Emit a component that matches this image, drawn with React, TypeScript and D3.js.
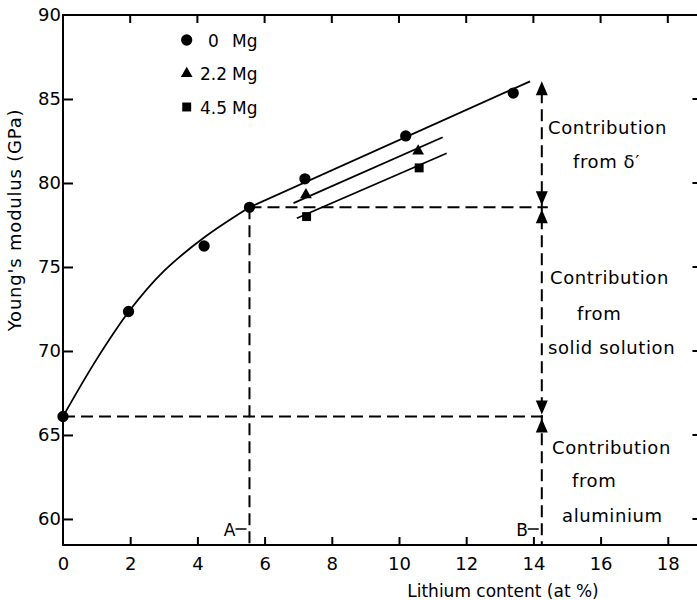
import React, { useEffect, useRef } from 'react';
import * as d3 from 'd3';

// 0 Mg series (circles)
const liMg0 = [0, 1.95, 4.2, 5.55, 7.2, 10.2, 13.4];
const eMg0 = [66.1, 72.35, 76.25, 78.55, 80.25, 82.8, 85.35];
// 2.2 Mg series (triangles)
const liMg22 = [7.23, 10.57];
const eMg22 = [79.3, 81.9];
// 4.5 Mg series (squares)
const liMg45 = [7.25, 10.6];
const eMg45 = [78.0, 80.9];

// fitted curve for the solid-solution region, then straight fits
const curveLi = [0, 1, 2, 3, 4.2, 5.55];
const curveE = [66.1, 69.5, 72.45, 74.75, 76.75, 78.55];
const fitMg0Li = [5.55, 13.9];
const fitMg0E = [78.55, 86.05];
const fitMg22Li = [6.86, 11.3];
const fitMg22E = [78.8, 82.72];
const fitMg45Li = [6.96, 11.42];
const fitMg45E = [77.9, 81.77];

const xTicks = [0, 2, 4, 6, 8, 10, 12, 14, 16, 18];
const yTicks = [60, 65, 70, 75, 80, 85, 90];
const legendNumbers = ['0', '2.2', '4.5'];

// construction lines
const liA = 5.55;
const liB = 14.25;
const eAlu = 66.1;
const eSolid = 78.55;
const eTop = 86.05;

const FONT = '"DejaVu Sans", sans-serif';

export default function App() {
  const ref = useRef<SVGSVGElement | null>(null);

  useEffect(() => {
    const svg = d3.select(ref.current);
    svg.selectAll('*').remove();

    const left = 63, top = 15, bottom = 545;
    const x = d3.scaleLinear().domain([0, 19]).range([left, left + 19 * 33.6]);
    const y = d3.scaleLinear().domain([58.45, 90]).range([bottom, top]);

    // frame
    svg.append('rect')
      .attr('x', x(0)).attr('y', y(90))
      .attr('width', x(19) - x(0)).attr('height', y(58.45) - y(90))
      .attr('fill', 'none').attr('stroke', '#000').attr('stroke-width', 2);

    // left axis with inward ticks
    const gy = svg.append('g').attr('transform', `translate(${x(0)},0)`)
      .call(d3.axisLeft(y).tickValues(yTicks).tickSize(-10).tickSizeOuter(0).tickPadding(2).tickFormat(d3.format('d')));
    gy.select('.domain').remove();
    gy.selectAll('line').attr('stroke-width', 2);
    gy.selectAll('text').attr('font-family', FONT).attr('font-size', 18).attr('fill', '#000');
    gy.selectAll('.tick').filter((d: any) => d === 90).select('line').remove();

    // right axis ticks
    svg.append('g').selectAll('line').data(yTicks.filter(d => d < 90)).enter().append('line')
      .attr('x1', x(19)).attr('x2', x(19) - 9)
      .attr('y1', d => y(d)).attr('y2', d => y(d))
      .attr('stroke', '#000').attr('stroke-width', 2);

    // bottom axis
    const gx = svg.append('g').attr('transform', `translate(0,${y(58.45)})`)
      .call(d3.axisBottom(x).tickValues(xTicks).tickSize(-8).tickSizeOuter(0).tickPadding(12).tickFormat(d3.format('d')));
    gx.select('.domain').remove();
    gx.selectAll('line').attr('stroke-width', 2);
    gx.selectAll('.tick').filter((d: any) => d === 0).select('line').remove();
    gx.selectAll('text').attr('font-family', FONT).attr('font-size', 18).attr('fill', '#000');

    // top ticks
    svg.append('g').selectAll('line').data(xTicks.filter(d => d > 0)).enter().append('line')
      .attr('x1', d => x(d)).attr('x2', d => x(d))
      .attr('y1', y(90)).attr('y2', y(90) + 8)
      .attr('stroke', '#000').attr('stroke-width', 2);

    // axis titles
    svg.append('text')
      .attr('transform', `translate(21,${220}) rotate(-90)`)
      .attr('text-anchor', 'middle')
      .attr('font-family', FONT).attr('font-size', 18).attr('letter-spacing', 0.8)
      .text("Young's modulus (GPa)");
    svg.append('text')
      .attr('x', 503).attr('y', 597)
      .attr('text-anchor', 'middle')
      .attr('font-family', FONT).attr('font-size', 17)
      .text('Lithium content (at %)');

    // dashed construction lines
    const dash = '12,6';
    const dashed = (x1: number, y1: number, x2: number, y2: number) =>
      svg.append('line')
        .attr('x1', x1).attr('y1', y1).attr('x2', x2).attr('y2', y2)
        .attr('stroke', '#000').attr('stroke-width', 2).attr('stroke-dasharray', dash);
    dashed(x(liA), y(eSolid), x(liB) + 6, y(eSolid));
    dashed(x(0), y(eAlu), x(liB) + 6, y(eAlu));
    dashed(x(liA), y(eSolid), x(liA), y(58.45));
    dashed(x(liB), y(eTop) + 10, x(liB), y(58.45));

    // arrows
    const arrow = (tipY: number, dir: number) => {
      const cx = x(liB);
      svg.append('path')
        .attr('d', `M${cx},${tipY} L${cx - 6},${tipY + dir * 14} L${cx + 6},${tipY + dir * 14} Z`)
        .attr('fill', '#000');
    };
    arrow(y(eTop), 1);
    arrow(y(eSolid) - 2, -1);
    arrow(y(eSolid) + 2, 1);
    arrow(y(eAlu) - 2, -1);
    arrow(y(eAlu) + 2, 1);

    // A and B labels with short leader dash
    [['A', liA], ['B', liB]].forEach(([t, li]) => {
      const lx = x(li as number);
      svg.append('text').attr('x', lx - 14).attr('y', 536).attr('text-anchor', 'end')
        .attr('font-family', FONT).attr('font-size', 17).text(t as string);
      svg.append('line').attr('x1', lx - 14).attr('x2', lx - 3).attr('y1', 529).attr('y2', 529)
        .attr('stroke', '#000').attr('stroke-width', 1.5);
    });

    // fit lines
    const line = d3.line<[number, number]>().x(d => x(d[0])).y(d => y(d[1]));
    const curve = d3.line<[number, number]>().x(d => x(d[0])).y(d => y(d[1])).curve(d3.curveCatmullRom.alpha(0.5));
    const pairs = (a: number[], b: number[]) => a.map((v, i) => [v, b[i]] as [number, number]);
    svg.append('path').attr('d', curve(pairs(curveLi, curveE))).attr('fill', 'none').attr('stroke', '#000').attr('stroke-width', 1.8);
    [[fitMg0Li, fitMg0E], [fitMg22Li, fitMg22E], [fitMg45Li, fitMg45E]].forEach(([a, b]) => {
      svg.append('path').attr('d', line(pairs(a, b))).attr('fill', 'none').attr('stroke', '#000').attr('stroke-width', 1.8);
    });

    // markers
    const circ = d3.symbol().type(d3.symbolCircle).size(100);
    const tri = d3.symbol().type(d3.symbolTriangle).size(60);
    const sq = d3.symbol().type(d3.symbolSquare).size(80);
    const markers = (li: number[], e: number[], sym: any) =>
      svg.append('g').selectAll('path').data(pairs(li, e)).enter().append('path')
        .attr('transform', d => `translate(${x(d[0])},${y(d[1])})`)
        .attr('d', sym()).attr('fill', '#000');
    markers(liMg0, eMg0, circ);
    markers(liMg22, eMg22, tri);
    markers(liMg45, eMg45, sq);

    // legend
    const syms = [circ, tri, sq];
    legendNumbers.forEach((n, i) => {
      const ly = 40 + i * 33.5;
      svg.append('path').attr('transform', `translate(186.7,${ly})`).attr('d', syms[i]()).attr('fill', '#000');
      svg.append('text').attr('x', i === 0 ? 208 : 200).attr('y', ly + 6.5)
        .attr('font-family', FONT).attr('font-size', 17).text(n);
      svg.append('text').attr('x', 232).attr('y', ly + 6.5)
        .attr('font-family', FONT).attr('font-size', 17).text('Mg');
    });

    // contribution annotations
    const notes: [string, number, number][] = [
      ['Contribution', 548, 127.5],
      ['from δ′', 573, 161],
      ['Contribution', 550, 277.5],
      ['from', 577, 313],
      ['solid solution', 548, 347],
      ['Contribution', 552, 447],
      ['from', 572, 480],
      ['aluminium', 562, 515],
    ];
    notes.forEach(([t, tx, ty]) => {
      svg.append('text').attr('x', tx).attr('y', ty + 6.5)
        .attr('font-family', FONT).attr('font-size', 18).attr('letter-spacing', 0.6).text(t);
    });
  }, []);

  return (
    <svg ref={ref} width={697} height={600}
      style={{ position: 'absolute', left: 0, top: 0, background: '#fff' }} />
  );
}
